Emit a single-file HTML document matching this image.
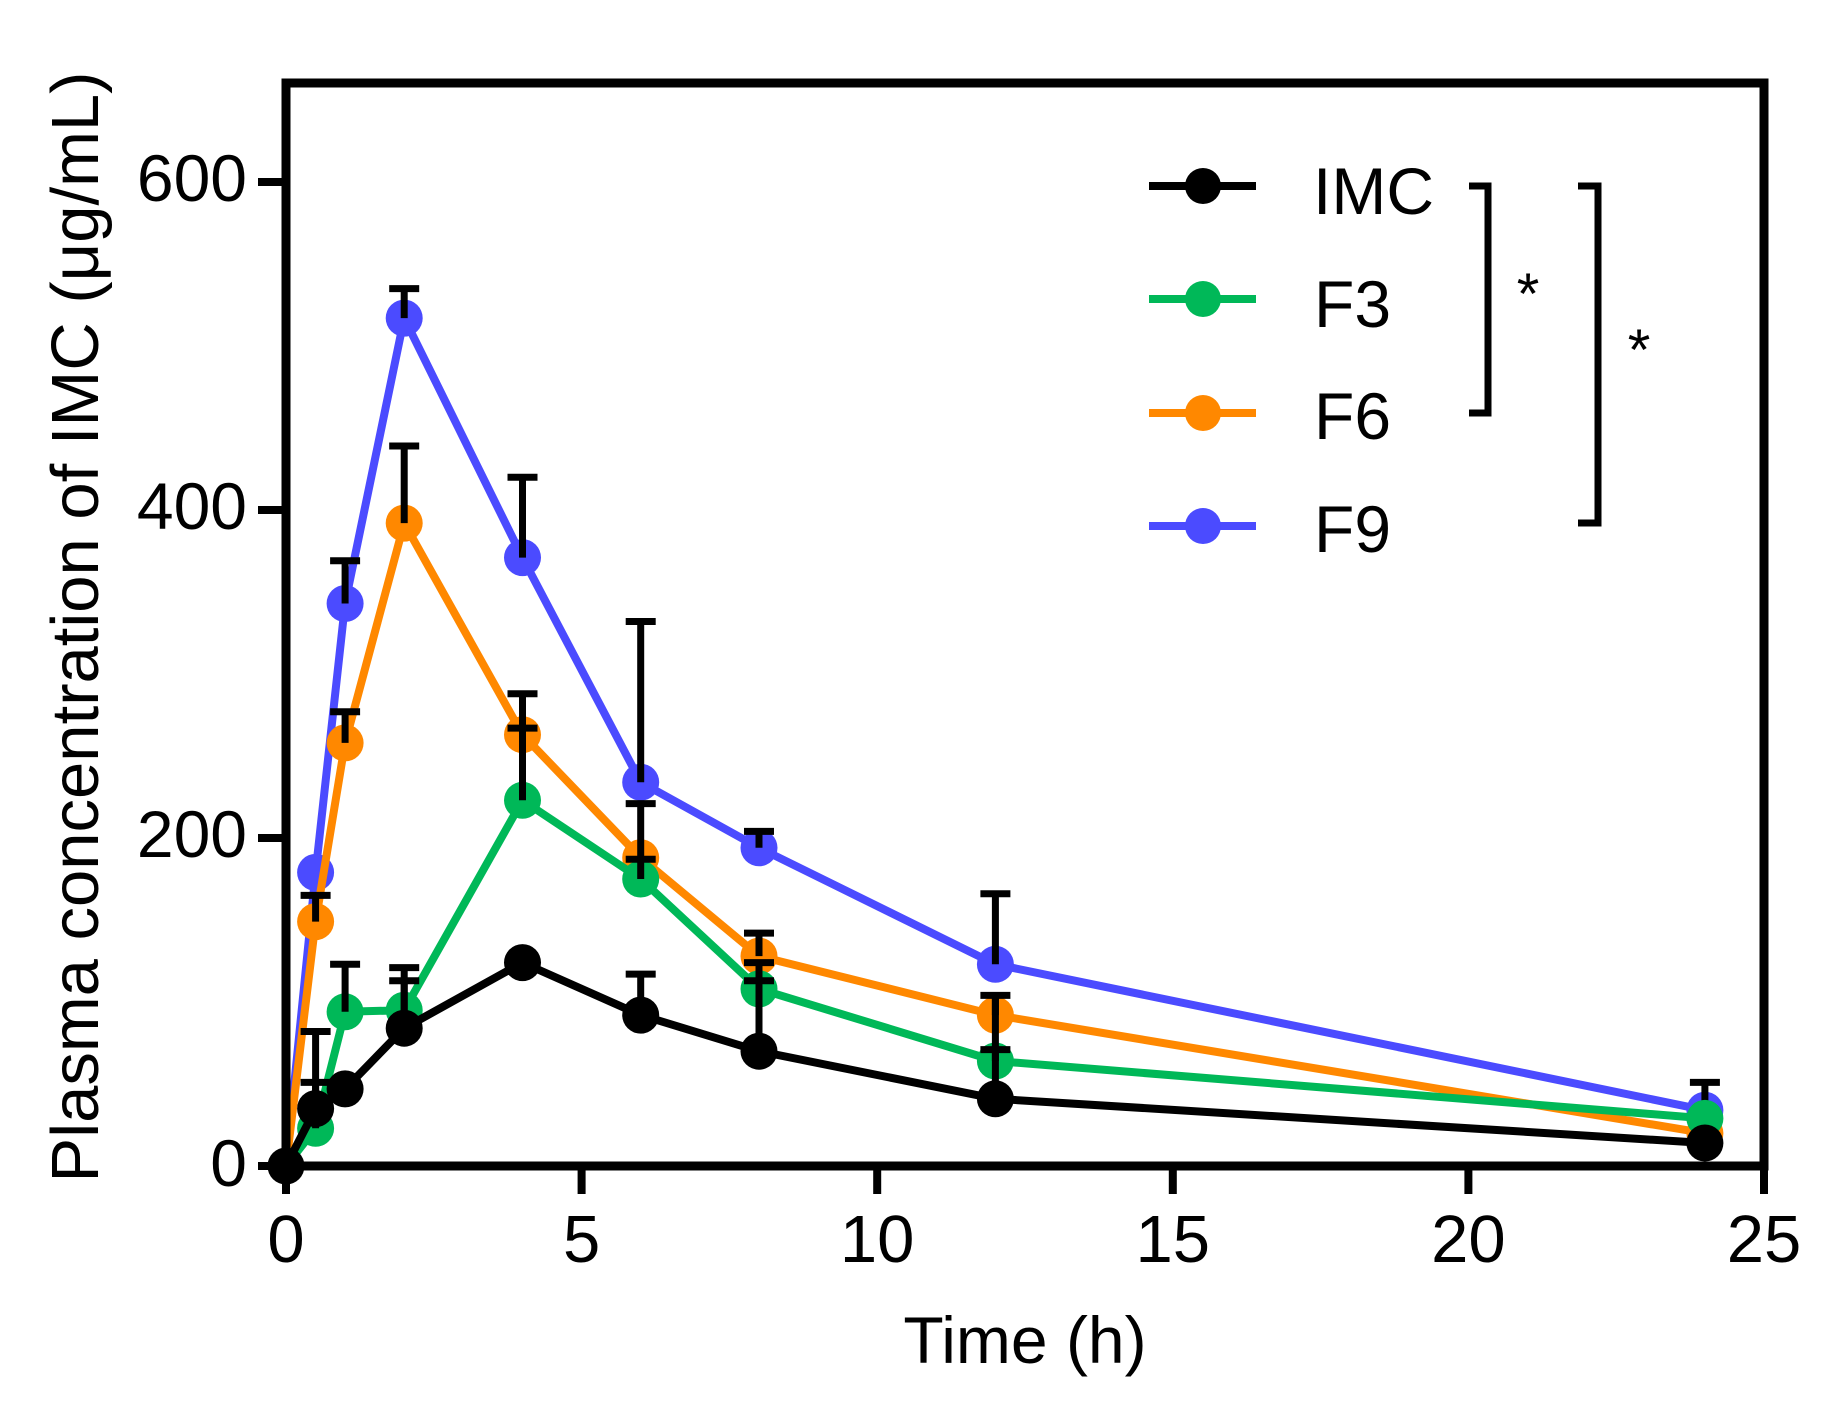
<!DOCTYPE html>
<html><head><meta charset="utf-8"><style>
html,body{margin:0;padding:0;background:#fff;}
svg{display:block;}
text{font-family:"Liberation Sans",Arial,sans-serif;fill:#000;}
</style></head><body>
<svg width="1833" height="1413" viewBox="0 0 1833 1413" xmlns="http://www.w3.org/2000/svg">
<rect width="1833" height="1413" fill="#fff"/>

<!-- F9 -->
<g>
<polyline fill="none" stroke="#4B4BFF" stroke-width="8" stroke-linejoin="round" points="286,1166 315.6,872.4 345.1,603.5 404.2,318.1 522.5,557.6 640.7,782.2 759,847.8 995.4,964.3 1704.9,1110.2"/>
<g fill="#4B4BFF">
<circle cx="315.6" cy="872.4" r="18.5"/><circle cx="345.1" cy="603.5" r="18.5"/><circle cx="404.2" cy="318.1" r="18.5"/><circle cx="522.5" cy="557.6" r="18.5"/><circle cx="640.7" cy="782.2" r="18.5"/><circle cx="759" cy="847.8" r="18.5"/><circle cx="995.4" cy="964.3" r="18.5"/><circle cx="1704.9" cy="1110.2" r="18.5"/>
</g>
<g stroke="#000" stroke-width="7" fill="none">
<path d="M345.1,603.5V560.8M330.1,560.8H360.1"/>
<path d="M404.2,318.1V288.6M389.2,288.6H419.2"/>
<path d="M522.5,557.6V477.2M507.5,477.2H537.5"/>
<path d="M640.7,782.2V621.5M625.7,621.5H655.7"/>
<path d="M759,847.8V831.4M744,831.4H774"/>
<path d="M995.4,964.3V893.8M980.4,893.8H1010.4"/>
<path d="M1704.9,1110.2V1082.4M1689.9,1082.4H1719.9"/>
</g>
</g>

<!-- F6 -->
<g>
<polyline fill="none" stroke="#FF8800" stroke-width="8" stroke-linejoin="round" points="286,1166 315.6,921.6 345.1,742.9 404.2,523.1 522.5,734.7 640.7,857.7 759,956.1 995.4,1015.1 1704.9,1133.2"/>
<g fill="#FF8800">
<circle cx="315.6" cy="921.6" r="18.5"/><circle cx="345.1" cy="742.9" r="18.5"/><circle cx="404.2" cy="523.1" r="18.5"/><circle cx="522.5" cy="734.7" r="18.5"/><circle cx="640.7" cy="857.7" r="18.5"/><circle cx="759" cy="956.1" r="18.5"/><circle cx="995.4" cy="1015.1" r="18.5"/><circle cx="1704.9" cy="1133.2" r="18.5"/>
</g>
<g stroke="#000" stroke-width="7" fill="none">
<path d="M315.6,921.6V895.4M300.6,895.4H330.6"/>
<path d="M345.1,742.9V711.7M330.1,711.7H360.1"/>
<path d="M404.2,523.1V446M389.2,446H419.2"/>
<path d="M522.5,734.7V693.7M507.5,693.7H537.5"/>
<path d="M640.7,857.7V803.6M625.7,803.6H655.7"/>
<path d="M759,956.1V933.1M744,933.1H774"/>
<path d="M995.4,1015.1V995.4M980.4,995.4H1010.4"/>
</g>
</g>

<!-- F3 -->
<g>
<polyline fill="none" stroke="#00B858" stroke-width="8" stroke-linejoin="round" points="286,1166 315.6,1128.3 345.1,1011.8 404.2,1010.2 522.5,800.3 640.7,879 759,988.9 995.4,1061 1704.9,1118.4"/>
<g fill="#00B858">
<circle cx="315.6" cy="1128.3" r="18.5"/><circle cx="345.1" cy="1011.8" r="18.5"/><circle cx="404.2" cy="1010.2" r="18.5"/><circle cx="522.5" cy="800.3" r="18.5"/><circle cx="640.7" cy="879" r="18.5"/><circle cx="759" cy="988.9" r="18.5"/><circle cx="995.4" cy="1061" r="18.5"/><circle cx="1704.9" cy="1118.4" r="18.5"/>
</g>
<g stroke="#000" stroke-width="7" fill="none">
<path d="M315.6,1128.3V1082.4M300.6,1082.4H330.6"/>
<path d="M345.1,1011.8V964.3M330.1,964.3H360.1"/>
<path d="M404.2,1010.2V967.6M389.2,967.6H419.2"/>
<path d="M522.5,800.3V728.1M507.5,728.1H537.5"/>
<path d="M640.7,879V859.3M625.7,859.3H655.7"/>
<path d="M759,988.9V962.6M744,962.6H774"/>
<path d="M995.4,1061V1049.6M980.4,1049.6H1010.4"/>
</g>
</g>

<!-- IMC -->
<g>
<polyline fill="none" stroke="#000" stroke-width="8" stroke-linejoin="round" points="286,1166 315.6,1108.6 345.1,1088.9 404.2,1028.2 522.5,962.6 640.7,1015.1 759,1051.2 995.4,1098.8 1704.9,1143"/>
<g fill="#000">
<circle cx="286" cy="1166" r="18.5"/><circle cx="315.6" cy="1108.6" r="18.5"/><circle cx="345.1" cy="1088.9" r="18.5"/><circle cx="404.2" cy="1028.2" r="18.5"/><circle cx="522.5" cy="962.6" r="18.5"/><circle cx="640.7" cy="1015.1" r="18.5"/><circle cx="759" cy="1051.2" r="18.5"/><circle cx="995.4" cy="1098.8" r="18.5"/><circle cx="1704.9" cy="1143" r="18.5"/>
</g>
<g stroke="#000" stroke-width="7" fill="none">
<path d="M315.6,1108.6V1031.5M300.6,1031.5H330.6"/>
<path d="M404.2,1028.2V980.7M389.2,980.7H419.2"/>
<path d="M640.7,1015.1V974.1M625.7,974.1H655.7"/>
<path d="M759,1051.2V980.7M744,980.7H774"/>
<path d="M995.4,1098.8V995.4"/>
</g>
</g>

<!-- Axes frame -->
<rect x="286" y="83" width="1478" height="1083" fill="none" stroke="#000" stroke-width="9"/>
<g stroke="#000" stroke-width="8">
<path d="M258,182H286M258,510H286M258,838H286M258,1166H286"/>
<path d="M286,1166V1194M581.6,1166V1194M877.2,1166V1194M1172.8,1166V1194M1468.4,1166V1194M1764,1166V1194"/>
</g>

<!-- Y tick labels -->
<g font-size="66" text-anchor="end">
<text x="247" y="201">600</text>
<text x="247" y="529">400</text>
<text x="247" y="857">200</text>
<text x="247" y="1186">0</text>
</g>
<!-- X tick labels -->
<g font-size="67" text-anchor="middle">
<text x="286" y="1262">0</text>
<text x="581.6" y="1262">5</text>
<text x="877.2" y="1262">10</text>
<text x="1172.8" y="1262">15</text>
<text x="1468.4" y="1262">20</text>
<text x="1764" y="1262">25</text>
</g>

<!-- Axis titles -->
<text x="1025" y="1363" font-size="66" text-anchor="middle">Time (h)</text>
<text transform="translate(98,627) rotate(-90)" x="0" y="0" font-size="67" text-anchor="middle">Plasma concentration of IMC (μg/mL)</text>

<!-- Legend -->
<g stroke-width="8">
<line x1="1149" y1="186" x2="1256" y2="186" stroke="#000"/>
<line x1="1149" y1="299" x2="1256" y2="299" stroke="#00B858"/>
<line x1="1149" y1="413" x2="1256" y2="413" stroke="#FF8800"/>
<line x1="1149" y1="526" x2="1256" y2="526" stroke="#4B4BFF"/>
</g>
<circle cx="1203" cy="186" r="18" fill="#000"/>
<circle cx="1203" cy="299" r="18" fill="#00B858"/>
<circle cx="1203" cy="413" r="18" fill="#FF8800"/>
<circle cx="1203" cy="526" r="18" fill="#4B4BFF"/>
<g font-size="66">
<text x="1313" y="214">IMC</text>
<text x="1314" y="327">F3</text>
<text x="1314" y="439">F6</text>
<text x="1314" y="552">F9</text>
</g>

<!-- Significance brackets -->
<g stroke="#000" stroke-width="7" fill="none">
<path d="M1469,186H1488V413H1469"/>
<path d="M1578,186H1598V523H1578"/>
</g>
<g font-size="58" text-anchor="middle">
<text x="1528" y="314">*</text>
<text x="1639" y="370">*</text>
</g>
</svg>
</body></html>
